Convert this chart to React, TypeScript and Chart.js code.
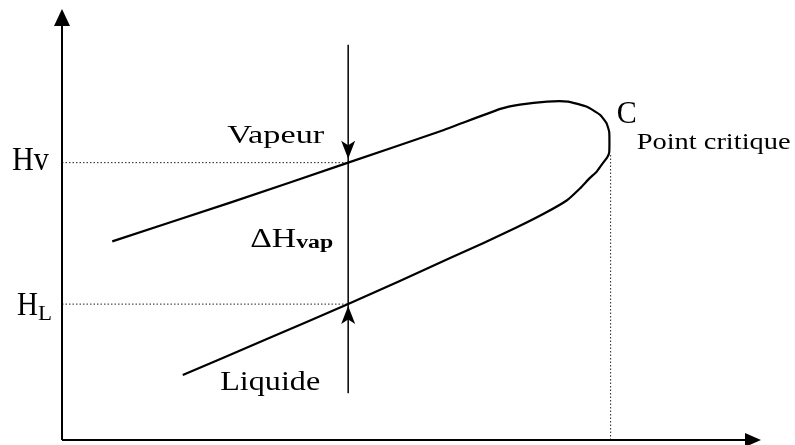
import React, { useEffect, useRef } from "react";
import { Chart, registerables } from "chart.js";

Chart.register(...registerables);

// Courbe de saturation : branche vapeur (gauche -> point critique) puis branche liquide
// x : température (u.a.), y : enthalpie (u.a.)
const courbeX = [7.2, 24.1, 41.0, 54.2, 62.8, 65.6, 69.5, 72.5, 75.2, 77.1, 78.0, 78.4, 78.4, 78.1, 77.3, 76.6, 75.6, 74.2, 72.3, 69.0, 65.1, 60.4, 55.6, 48.4, 41.0, 29.1, 17.3];
const courbeY = [46.2, 55.2, 64.5, 71.8, 77.0, 78.0, 78.7, 78.7, 77.5, 75.6, 73.7, 71.6, 66.9, 65.7, 64.0, 62.4, 60.9, 58.5, 55.7, 52.6, 49.4, 45.8, 42.3, 37.0, 31.6, 23.3, 15.1];

const HV = 64.5;
const HL = 31.6;
const X_OP = 41.0; // température de l'isotherme
const X_C = 78.6; // température critique
const Y_C = 66.7;
const ARROW_TOP = 91.9;
const ARROW_BOTTOM = 10.9;

const FONT = '"Liberation Serif", "Times New Roman", serif';

function drawText(
  ctx: CanvasRenderingContext2D,
  text: string,
  x: number,
  y: number,
  size: number,
  width: number,
  bold = false
) {
  ctx.save();
  ctx.font = `${bold ? "bold " : ""}${size}px ${FONT}`;
  const w = ctx.measureText(text).width;
  ctx.translate(x, y);
  ctx.scale(width / w, 1);
  ctx.fillStyle = "#000";
  ctx.textBaseline = "alphabetic";
  ctx.textAlign = "left";
  ctx.fillText(text, 0, 0);
  ctx.restore();
}

function arrowHead(
  ctx: CanvasRenderingContext2D,
  x: number,
  tipY: number,
  dir: number, // 1 = pointe vers le bas, -1 = vers le haut
  len: number,
  half: number
) {
  ctx.save();
  ctx.fillStyle = "#000";
  ctx.beginPath();
  ctx.moveTo(x, tipY);
  ctx.lineTo(x - half, tipY - dir * len);
  ctx.lineTo(x, tipY - dir * len * 0.75);
  ctx.lineTo(x + half, tipY - dir * len);
  ctx.closePath();
  ctx.fill();
  ctx.restore();
}

const diagramPlugin = {
  id: "diagram",
  afterDatasetsDraw(chart: any) {
    const ctx: CanvasRenderingContext2D = chart.ctx;
    const { left, right, top, bottom } = chart.chartArea;
    const xs = chart.scales.x;
    const ys = chart.scales.y;

    // axes avec flèches
    ctx.save();
    ctx.strokeStyle = "#000";
    ctx.lineWidth = 2;
    ctx.beginPath();
    ctx.moveTo(left, bottom);
    ctx.lineTo(left, top + 10);
    ctx.moveTo(left, bottom);
    ctx.lineTo(right - 10, bottom);
    ctx.stroke();
    ctx.fillStyle = "#000";
    ctx.beginPath();
    ctx.moveTo(left, top - 1);
    ctx.lineTo(left - 8, top + 16);
    ctx.lineTo(left + 8, top + 16);
    ctx.closePath();
    ctx.fill();
    ctx.beginPath();
    ctx.moveTo(right + 1, bottom);
    ctx.lineTo(right - 15, bottom - 7);
    ctx.lineTo(right - 15, bottom + 7);
    ctx.closePath();
    ctx.fill();
    ctx.restore();

    // flèches sur l'isotherme
    const ax = xs.getPixelForValue(X_OP);
    arrowHead(ctx, ax, ys.getPixelForValue(HV) - 4, 1, 18, 7);
    arrowHead(ctx, ax, ys.getPixelForValue(HL) + 2, -1, 18, 7);

    // textes
    const yHv = ys.getPixelForValue(HV);
    const yHl = ys.getPixelForValue(HL);
    drawText(ctx, "Hv", left - 50, yHv + 7, 33, 37);
    drawText(ctx, "H", left - 45, yHl + 11, 33, 21);
    drawText(ctx, "L", left - 24, yHl + 16, 21, 14);
    drawText(ctx, "Vapeur", ax - 121, yHv - 20, 26, 97);
    drawText(ctx, "ΔH", ax - 98, yHv + 84, 27, 46);
    drawText(ctx, "vap", ax - 52, yHv + 85, 18, 37, true);
    drawText(ctx, "Liquide", ax - 128, yHl + 86, 27, 100);
    const cx = xs.getPixelForValue(X_C);
    const cy = ys.getPixelForValue(Y_C);
    drawText(ctx, "C", cx + 6, cy - 30, 31, 20);
    drawText(ctx, "Point critique", cx + 26, cy - 4, 24, 154);
  },
};

export default function App() {
  const ref = useRef<HTMLCanvasElement | null>(null);

  useEffect(() => {
    if (!ref.current) return;
    const dotted = {
      borderColor: "#222",
      borderWidth: 1,
      borderDash: [1.5, 2],
      pointRadius: 0,
      fill: false,
      tension: 0,
    };
    const chart = new Chart(ref.current, {
      type: "scatter",
      data: {
        datasets: [
          {
            label: "Courbe de saturation",
            data: courbeX.map((x, i) => ({ x, y: courbeY[i] })),
            showLine: true,
            borderColor: "#000",
            borderWidth: 2.2,
            pointRadius: 0,
            tension: 0.15,
          },
          {
            label: "Hv",
            data: [
              { x: 0, y: HV },
              { x: X_OP, y: HV },
            ],
            showLine: true,
            ...dotted,
          },
          {
            label: "HL",
            data: [
              { x: 0, y: HL },
              { x: X_OP, y: HL },
            ],
            showLine: true,
            ...dotted,
          },
          {
            label: "Tc",
            data: [
              { x: X_C, y: 0 },
              { x: X_C, y: Y_C },
            ],
            showLine: true,
            ...dotted,
          },
          {
            label: "Isotherme",
            data: [
              { x: X_OP, y: ARROW_TOP },
              { x: X_OP, y: ARROW_BOTTOM },
            ],
            showLine: true,
            borderColor: "#000",
            borderWidth: 1.5,
            pointRadius: 0,
            tension: 0,
          },
        ],
      },
      options: {
        animation: false,
        responsive: false,
        maintainAspectRatio: false,
        layout: { padding: { left: 62, right: 35, top: 10, bottom: 5 } },
        plugins: {
          legend: { display: false },
          tooltip: { enabled: false },
        },
        scales: {
          x: { type: "linear", min: 0, max: 100, display: false },
          y: { type: "linear", min: 0, max: 100, display: false },
        },
      },
      plugins: [diagramPlugin],
    });
    return () => chart.destroy();
  }, []);

  return (
    <div style={{ position: "fixed", left: 0, top: 0, width: 795, height: 445, background: "#fff" }}>
      <canvas ref={ref} width={795} height={445} style={{ width: 795, height: 445 }} />
    </div>
  );
}
